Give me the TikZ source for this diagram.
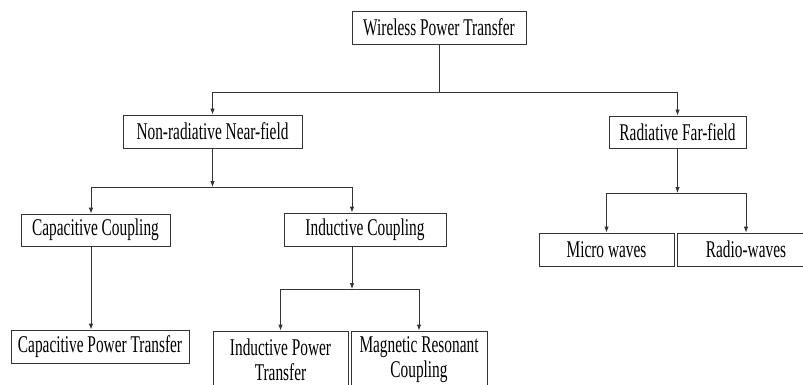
\documentclass[tikz,border=0pt]{standalone}
\usepackage{fontspec}
\setmainfont[FakeStretch=0.64]{Liberation Serif}
\usetikzlibrary{arrows.meta}
\begin{document}
\begin{tikzpicture}[x=1pt, y=-1pt,
  box/.style={draw=black!80, line width=0.8pt, inner sep=0pt, align=center,
              font=\fontsize{24}{25}\selectfont},
  link/.style={draw=black!80, line width=0.8pt},
  arr/.style={link, -{Latex[length=6pt, width=4.5pt]}}]
\clip (0,0) rectangle (803,385);

% boxes
\node[box, minimum width=174pt, minimum height=33pt] (wpt) at (439,27.5) {Wireless Power Transfer};
\node[box, minimum width=179pt, minimum height=33pt] (nrn) at (212.5,131.5) {Non-radiative Near-field};
\node[box, minimum width=137pt, minimum height=32pt] (rad) at (677.5,132) {Radiative Far-field};
\node[box, minimum width=149pt, minimum height=32pt] (cc)  at (95.5,230) {Capacitive Coupling};
\node[box, minimum width=162pt, minimum height=33pt] (ic)  at (365,229.5) {Inductive Coupling};
\node[box, minimum width=178pt, minimum height=33pt] (cpt) at (100,346.5) {Capacitive Power Transfer};
\node[box, minimum width=135pt, minimum height=57pt] (ipt) at (280.5,359.5) {Inductive Power\\Transfer};
\node[box, minimum width=136pt, minimum height=57pt] (mrc) at (419,359.5) {Magnetic Resonant\\Coupling};
\node[box, minimum width=135pt, minimum height=33pt] (mw)  at (606.5,249.5) {Micro waves};
\node[box, minimum width=138pt, minimum height=33pt] (rw)  at (746,249.5) {Radio-waves};

% bus levels and arrow columns
\coordinate (busA) at (0,92);
\coordinate (busB) at (0,187);
\coordinate (busC) at (0,289);
\coordinate (busD) at (0,193);
\coordinate (ccx) at (91,0);
\coordinate (icx) at (352,0);

% Wireless Power Transfer -> near / far field
\draw[link] (wpt.south) -- (wpt.south |- busA);
\draw[arr] (wpt.south |- busA) -| (nrn.north);
\draw[arr] (wpt.south |- busA) -| (rad.north);

% near field -> coupling types
\draw[arr] (nrn.south) -- (nrn.south |- busB);
\draw[arr] (nrn.south |- busB) -| (ccx |- cc.north);
\draw[arr] (nrn.south |- busB) -| (icx |- ic.north);

% capacitive branch
\draw[arr] (ccx |- cc.south) -- (ccx |- cpt.north);

% inductive branch
\draw[arr] (icx |- ic.south) -- (icx |- busC);
\draw[arr] (icx |- busC) -| (ipt.north);
\draw[arr] (icx |- busC) -| (mrc.north);

% far field branch
\draw[arr] (rad.south) -- (rad.south |- busD);
\draw[arr] (rad.south |- busD) -| (mw.north);
\draw[arr] (rad.south |- busD) -| (rw.north);
\end{tikzpicture}
\end{document}
